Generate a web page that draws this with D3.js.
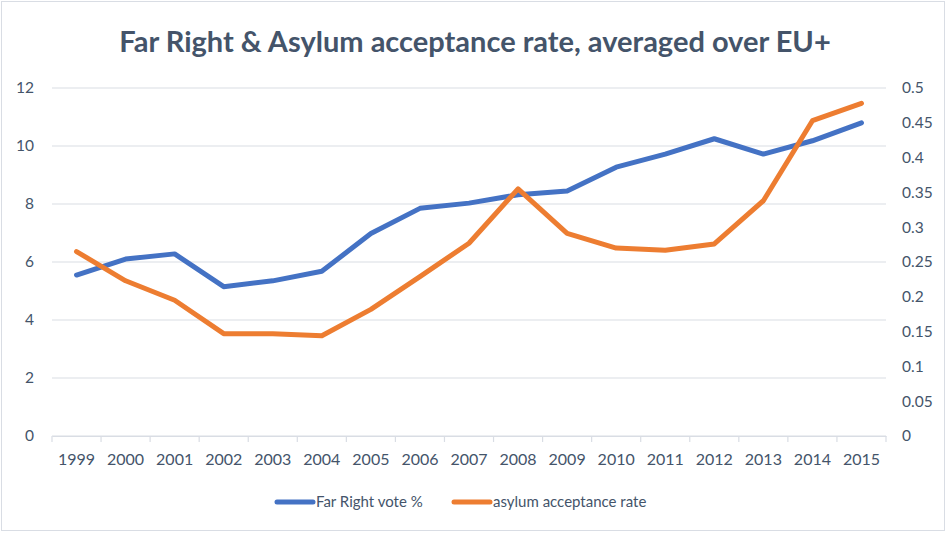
<!DOCTYPE html>
<html>
<head>
<meta charset="utf-8">
<script src="https://cdn.jsdelivr.net/npm/d3@7"></script>
<style>
  body { margin: 0; background: #fff; }
  text { font-family: Lato, "Open Sans", sans-serif; }
</style>
</head>
<body>
<script>
var years = ["1999","2000","2001","2002","2003","2004","2005","2006","2007",
             "2008","2009","2010","2011","2012","2013","2014","2015"];
var farRight = [5.55, 6.1, 6.28, 5.15, 5.35, 5.68, 6.98, 7.85, 8.03,
                8.32, 8.45, 9.27, 9.72, 10.25, 9.72, 10.18, 10.8];
var asylum = [0.265, 0.223, 0.195, 0.147, 0.147, 0.144, 0.182, 0.229, 0.277,
              0.355, 0.291, 0.270, 0.267, 0.276, 0.338, 0.453, 0.478];
var leftTicks = [0, 2, 4, 6, 8, 10, 12];
var rightTicks = [0, 0.05, 0.1, 0.15, 0.2, 0.25, 0.3, 0.35, 0.4, 0.45, 0.5];

var W = 948, H = 533;
var margin = {top: 88, right: 62, bottom: 97, left: 52},
    width = W - margin.left - margin.right,
    height = H - margin.top - margin.bottom;

var textColor = '#44546a',
    gridColor = '#d9dde4';

var svg = d3.select('body').append('svg')
    .attr('width', W)
    .attr('height', H);

// chart border
svg.append('rect')
   .attr('x', 1.5).attr('y', 1.5)
   .attr('width', W - 5).attr('height', H - 4)
   .attr('fill', 'none')
   .attr('stroke', '#d9dde4');

svg.append('text')
   .attr('x', 475).attr('y', 52)
   .attr('text-anchor', 'middle')
   .attr('font-size', '29px')
   .attr('font-weight', 'bold')
   .attr('fill', textColor)
   .text('Far Right & Asylum acceptance rate, averaged over EU+');

var g = svg.append('g')
    .attr('transform', 'translate(' + margin.left + ',' + margin.top + ')');

var x = d3.scaleBand().domain(years).range([0, width]);
var yL = d3.scaleLinear().domain([0, 12]).range([height, 0]);
var yR = d3.scaleLinear().domain([0, 0.5]).range([height, 0]);

// gridlines
g.selectAll('.grid')
 .data(leftTicks)
 .enter().append('line')
 .attr('x1', 0).attr('x2', width)
 .attr('y1', function(d){ return yL(d); })
 .attr('y2', function(d){ return yL(d); })
 .attr('stroke', gridColor)
 .attr('stroke-width', 1.2);

// left axis
var leftAxis = g.append('g')
  .call(d3.axisLeft(yL).tickValues(leftTicks).tickSize(0).tickPadding(18));
leftAxis.select('.domain').remove();
leftAxis.selectAll('text')
  .attr('fill', textColor)
  .attr('font-size', '15.5px');

// right axis
var rightAxis = g.append('g')
  .attr('transform', 'translate(' + width + ',0)')
  .call(d3.axisRight(yR).tickValues(rightTicks).tickSize(0).tickPadding(16)
        .tickFormat(function(d){ return d3.format('~g')(d); }));
rightAxis.select('.domain').remove();
rightAxis.selectAll('text')
  .attr('fill', textColor)
  .attr('font-size', '15.5px');

// x axis with ticks between categories
var xAxis = g.append('g')
  .attr('transform', 'translate(0,' + height + ')')
  .call(d3.axisBottom(x).tickSize(0).tickPadding(18));
xAxis.select('.domain').attr('stroke', gridColor).attr('stroke-width', 1.2);
xAxis.selectAll('text')
  .attr('fill', textColor)
  .attr('font-size', '16px');

var boundaries = d3.range(years.length + 1).map(function(i){ return i * x.bandwidth(); });
xAxis.selectAll('.sep')
  .data(boundaries)
  .enter().append('line')
  .attr('x1', function(d){ return d; })
  .attr('x2', function(d){ return d; })
  .attr('y1', 0).attr('y2', 6)
  .attr('stroke', gridColor)
  .attr('stroke-width', 1.2);

var cx = function(i){ return x(years[i]) + x.bandwidth() / 2; };

var lineL = d3.line()
  .x(function(d, i){ return cx(i); })
  .y(function(d){ return yL(d); });
var lineR = d3.line()
  .x(function(d, i){ return cx(i); })
  .y(function(d){ return yR(d); });

g.append('path')
 .datum(farRight)
 .attr('d', lineL)
 .attr('fill', 'none')
 .attr('stroke', '#4472c4')
 .attr('stroke-width', 5)
 .attr('stroke-linecap', 'round')
 .attr('stroke-linejoin', 'round');

g.append('path')
 .datum(asylum)
 .attr('d', lineR)
 .attr('fill', 'none')
 .attr('stroke', '#ed7d31')
 .attr('stroke-width', 5)
 .attr('stroke-linecap', 'round')
 .attr('stroke-linejoin', 'round');

// legend
var legend = [
  {name: 'Far Right vote %', color: '#4472c4', x: 277},
  {name: 'asylum acceptance rate', color: '#ed7d31', x: 454}
];
var lg = svg.selectAll('.legend')
  .data(legend)
  .enter().append('g')
  .attr('transform', function(d){ return 'translate(' + d.x + ',502)'; });
lg.append('line')
  .attr('x1', 0).attr('x2', 36)
  .attr('stroke', function(d){ return d.color; })
  .attr('stroke-width', 5)
  .attr('stroke-linecap', 'round');
lg.append('text')
  .attr('x', 39).attr('dy', '0.35em')
  .attr('font-size', '15px')
  .attr('fill', textColor)
  .text(function(d){ return d.name; });
</script>
</body>
</html>
